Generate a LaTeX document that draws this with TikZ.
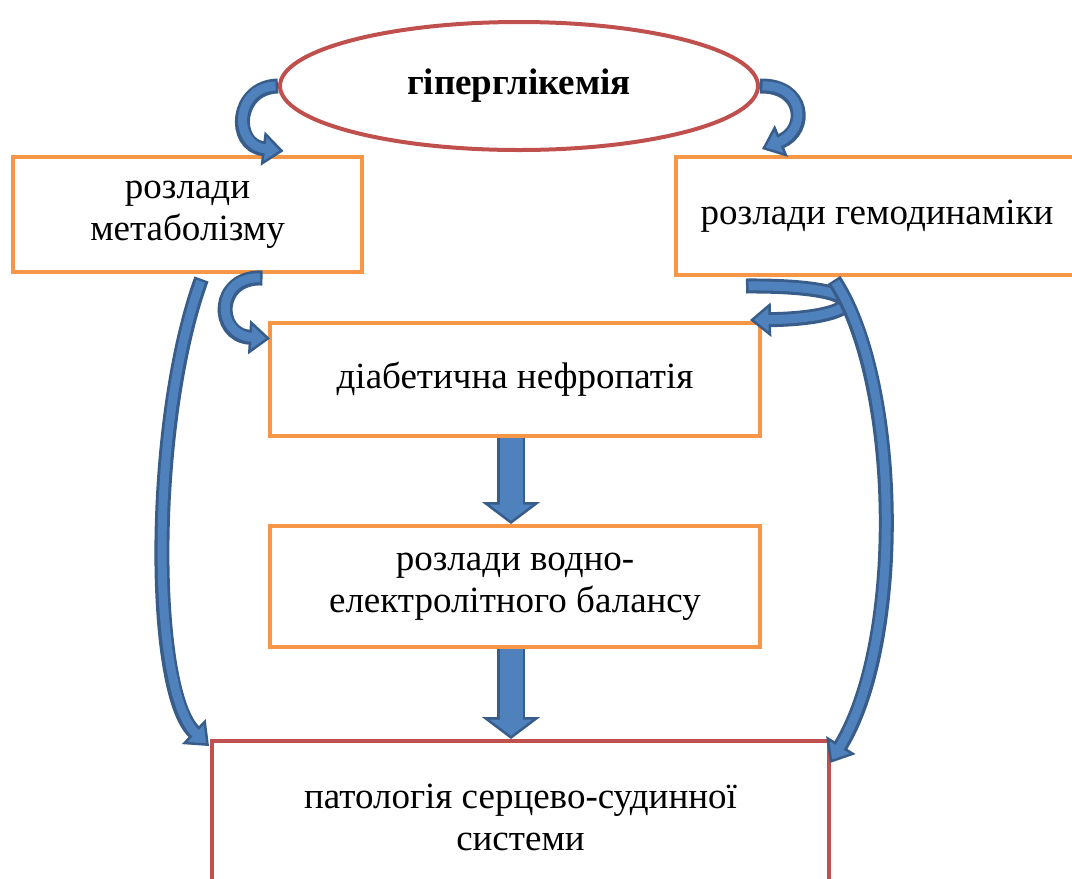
\documentclass[tikz,border=0pt]{standalone}
\usepackage{fontspec}
\setmainfont{Liberation Serif}
\usetikzlibrary{shapes.geometric,arrows.meta,calc}
\definecolor{boxorange}{HTML}{F79646}
\definecolor{boxred}{HTML}{C0504D}
\definecolor{arrowfill}{HTML}{4F81BD}
\definecolor{arrowline}{HTML}{385D8A}
\begin{document}
\begin{tikzpicture}[x=1pt,y=-1pt,
  txt/.style={font=\fontsize{37}{42}\selectfont, align=center, inner sep=0pt},
  obox/.style={txt, draw=boxorange, line width=4pt, fill=white},
  rbox/.style={txt, draw=boxred, line width=4pt, fill=white},
  curvarr/.style={draw=arrowline, line width=15pt,
    -{Triangle[width=34pt,length=21pt,fill=arrowfill,line width=2.5pt]},
    postaction={draw=arrowfill, line width=9pt, arrows=-, shorten >=18pt, shorten <=2.5pt}},
  blockarr/.style={draw=arrowline, line width=28pt,
    -{Triangle[width=58pt,length=22pt,fill=arrowfill,line width=2.5pt]},
    postaction={draw=arrowfill, line width=23pt, arrows=-, shorten >=19pt}}]
\useasboundingbox (0,0) rectangle (1072,879);
% nodes
\node[ellipse, draw=boxred, line width=4pt, minimum width=478pt, minimum height=128pt, inner sep=0pt,
  font=\fontsize{37}{42}\selectfont\bfseries] (ell) at (519,86) {гіперглікемія};
\node[obox, minimum width=349pt, minimum height=115pt] (b1) at (187.5,214.5) {розлади\\метаболізму};
\node[obox, minimum width=402pt, minimum height=118pt] (b2) at (877,216) {розлади гемодинаміки};
\node[obox, minimum width=490pt, minimum height=113pt] (b3) at (515,379.5) {діабетична нефропатія};
\node[obox, minimum width=490pt, minimum height=121pt] (b4) at (515,586.5) {розлади водно-\\електролітного балансу};
\node[rbox, minimum width=617pt, minimum height=152pt] (b5) at (520.5,817) {патологія серцево-судинної\\системи};
% block arrows
\draw[blockarr] ([xshift=-4pt]b3.south) -- ([xshift=-4pt]b3.south |- b4.north);
\draw[blockarr] ([xshift=-4pt]b4.south) -- ([xshift=-4pt]b4.south |- b5.north);
% curved arrows
\draw[curvarr] (ell.west) .. controls (235,87) and (232,145) .. ($(b1.north)+(96,-4)$);
\draw[curvarr] (ell.east) .. controls (805,85) and (808,130) .. ($(b2.north)+(-115,-6)$);
\draw[curvarr] ($(b1.south)+(75,4)$) .. controls (215,276) and (215,335) .. ($(b3.west)+(2,-41)$);
\draw[curvarr] ($(b2.south west)+(72,9)$) .. controls (880,285) and (870,318) .. ($(b3.north east)+(-12,-1)$);
\draw[curvarr] ($(b1.south)+(14,5)$) .. controls (150,420) and (150,690) .. ($(b5.north west)+(-1,7)$);
\draw[curvarr] ($(b2.south west)+(160,3)$) .. controls (900,380) and (905,640) .. ($(b5.north east)+(-1,24)$);
\end{tikzpicture}
\end{document}
